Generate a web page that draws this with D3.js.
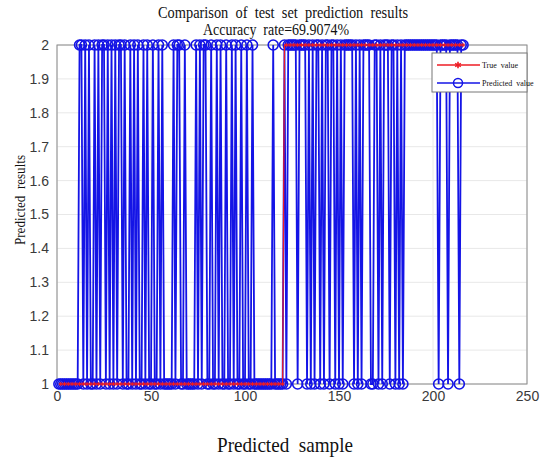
<!DOCTYPE html>
<html>
<head>
<meta charset="utf-8">
<script src="https://cdn.jsdelivr.net/npm/d3@7"></script>
<style>
  body { margin: 0; background: #fff; }
  svg { display: block; }
</style>
</head>
<body>
<div id="chart"></div>
<script>
var svgWidth = 556;
var svgHeight = 461;

var margin = { top: 45, right: 29, bottom: 77, left: 57 };
var width = svgWidth - margin.left - margin.right;
var height = svgHeight - margin.top - margin.bottom;

// test set labels, samples 1..216
var trueValues = [
  1,1,1,1,1,1,1,1,1,1, 1,1,1,1,1,1,1,1,1,1, 1,1,1,1,1,1,1,1,1,1,
  1,1,1,1,1,1,1,1,1,1, 1,1,1,1,1,1,1,1,1,1, 1,1,1,1,1,1,1,1,1,1,
  1,1,1,1,1,1,1,1,1,1, 1,1,1,1,1,1,1,1,1,1, 1,1,1,1,1,1,1,1,1,1,
  1,1,1,1,1,1,1,1,1,1, 1,1,1,1,1,1,1,1,1,1, 1,1,1,1,1,1,1,1,1,1,
  2,2,2,2,2,2,2,2,2,2, 2,2,2,2,2,2,2,2,2,2, 2,2,2,2,2,2,2,2,2,2,
  2,2,2,2,2,2,2,2,2,2, 2,2,2,2,2,2,2,2,2,2, 2,2,2,2,2,2,2,2,2,2,
  2,2,2,2,2,2,2,2,2,2, 2,2,2,2,2,2,2,2,2,2, 2,2,2,2,2,2,2,2,2,2,
  2,2,2,2,2,2
];

var predictedValues = [
  1,1,1,1,1,1,1,1,1,1, 1,2,2,1,2,1,2,1,1,2, 1,2,1,2,2,1,2,1,2,1,
  2,1,2,2,1,2,1,1,2,1, 2,1,2,1,1,2,1,2,1,1, 2,1,1,2,1,2,1,1,1,1,
  1,2,1,2,2,1,1,2,1,1, 1,1,1,2,1,2,1,2,2,1, 1,2,1,1,2,1,2,1,1,2,
  1,1,2,1,2,1,1,2,1,1, 2,1,1,2,1,1,1,1,1,1, 1,1,1,1,2,1,1,1,1,1,
  2,1,2,2,2,2,2,1,2,2, 2,2,1,2,1,2,1,2,2,1, 2,1,2,2,1,2,2,1,2,1,
  2,1,2,2,2,2,2,1,2,1, 2,1,2,2,2,2,1,1,2,2, 1,2,1,2,2,2,1,2,2,1,
  2,1,2,1,2,2,2,2,2,2, 2,2,2,2,2,2,2,2,2,2, 2,2,1,2,2,2,2,1,2,2,
  2,2,2,1,2,2
];

var xTicks = [0, 50, 100, 150, 200, 250];
var yTicks = [1, 1.1, 1.2, 1.3, 1.4, 1.5, 1.6, 1.7, 1.8, 1.9, 2];

var titleLines = ["Comparison  of  test  set  prediction  results", "Accuracy  rate=69.9074%"];
var seriesNames = ["True  value", "Predicted  value"];

var blue = "#1414e6";
var red = "#ee1c24";
var serif = "Liberation Serif, Times New Roman, serif";

var svg = d3.select("#chart")
  .append("svg")
  .attr("width", svgWidth)
  .attr("height", svgHeight);

var chartGroup = svg.append("g")
  .attr("transform", `translate(${margin.left}, ${margin.top})`);

var xLinearScale = d3.scaleLinear().domain([0, 250]).range([0, width]);
var yLinearScale = d3.scaleLinear().domain([1, 2]).range([height, 0]);

// grid
chartGroup.append("g")
  .selectAll("line")
  .data(xTicks)
  .enter()
  .append("line")
  .attr("x1", d => xLinearScale(d))
  .attr("x2", d => xLinearScale(d))
  .attr("y1", 0)
  .attr("y2", height)
  .attr("stroke", "#e8e8e8");

chartGroup.append("g")
  .selectAll("line")
  .data(yTicks)
  .enter()
  .append("line")
  .attr("x1", 0)
  .attr("x2", width)
  .attr("y1", d => yLinearScale(d))
  .attr("y2", d => yLinearScale(d))
  .attr("stroke", "#e8e8e8");

// box
chartGroup.append("rect")
  .attr("width", width)
  .attr("height", height)
  .attr("fill", "none")
  .attr("stroke", "#8a8a8a");

var bottomAxis = d3.axisBottom(xLinearScale).tickValues(xTicks).tickSize(0).tickPadding(7);
var leftAxis = d3.axisLeft(yLinearScale).tickValues(yTicks).tickSize(0).tickPadding(8)
  .tickFormat(d3.format("~g"));

var xAxis = chartGroup.append("g")
  .attr("transform", `translate(0, ${height})`)
  .call(bottomAxis);
var yAxis = chartGroup.append("g").call(leftAxis);

[xAxis, yAxis].forEach(function(ax) {
  ax.select(".domain").remove();
  ax.selectAll("text")
    .attr("font-family", "Liberation Sans, Arial, sans-serif")
    .attr("font-size", "14px")
    .attr("fill", "#3a3a3a");
});

var idx = d3.range(1, predictedValues.length + 1);

var line = d3.line()
  .x(d => xLinearScale(d[0]))
  .y(d => yLinearScale(d[1]));

// predicted: blue with circles
var predPts = idx.map((i, k) => [i, predictedValues[k]]);
chartGroup.append("path")
  .datum(predPts)
  .attr("d", line)
  .attr("fill", "none")
  .attr("stroke", blue)
  .attr("stroke-width", 1.8);

chartGroup.append("g")
  .selectAll("circle")
  .data(predPts)
  .enter()
  .append("circle")
  .attr("cx", d => xLinearScale(d[0]))
  .attr("cy", d => yLinearScale(d[1]))
  .attr("r", 5)
  .attr("fill", "none")
  .attr("stroke", blue)
  .attr("stroke-width", 1.6);

// true: red with asterisks
var truePts = idx.map((i, k) => [i, trueValues[k]]);
chartGroup.append("path")
  .datum(truePts)
  .attr("d", line)
  .attr("fill", "none")
  .attr("stroke", red)
  .attr("stroke-width", 1.2);

var star = d3.symbol().type(d3.symbolAsterisk).size(12);
chartGroup.append("g")
  .selectAll("path")
  .data(truePts.filter((d, k) => k % 2 == 1))
  .enter()
  .append("path")
  .attr("d", star())
  .attr("transform", d => `translate(${xLinearScale(d[0])}, ${yLinearScale(d[1])})`)
  .attr("fill", "none")
  .attr("stroke", red)
  .attr("stroke-width", 1);

// legend
var legend = chartGroup.append("g")
  .attr("transform", `translate(${width - 95}, 8)`);
legend.append("rect")
  .attr("width", 95)
  .attr("height", 39)
  .attr("fill", "#fff")
  .attr("stroke", "#777");

var legendItems = [
  { name: seriesNames[0], color: red },
  { name: seriesNames[1], color: blue }
];
legendItems.forEach(function(item, i) {
  var y = 12 + i * 18;
  legend.append("line")
    .attr("x1", 5).attr("x2", 48)
    .attr("y1", y).attr("y2", y)
    .attr("stroke", item.color)
    .attr("stroke-width", 1.4);
  if (i == 0) {
    legend.append("path")
      .attr("d", d3.symbol().type(d3.symbolAsterisk).size(30)())
      .attr("transform", `translate(26, ${y})`)
      .attr("fill", "none")
      .attr("stroke", item.color)
      .attr("stroke-width", 1.6);
  } else {
    legend.append("circle")
      .attr("cx", 26).attr("cy", y).attr("r", 4.5)
      .attr("fill", "none")
      .attr("stroke", item.color)
      .attr("stroke-width", 1.5);
  }
  legend.append("text")
    .attr("x", 50)
    .attr("y", y + 3)
    .attr("font-family", serif)
    .attr("font-size", "8px")
    .attr("fill", "#111")
    .style("white-space", "pre")
    .text(item.name);
});

// titles
var titleX = [283, 276];
var titleLen = [250, 146];
svg.append("g")
  .selectAll("text")
  .data(titleLines)
  .enter()
  .append("text")
  .attr("x", (d, i) => titleX[i])
  .attr("y", (d, i) => 18 + i * 17)
  .attr("text-anchor", "middle")
  .attr("font-family", serif)
  .attr("font-size", "16px")
  .attr("fill", "#111")
  .attr("textLength", (d, i) => titleLen[i])
  .attr("lengthAdjust", "spacingAndGlyphs")
  .style("white-space", "pre")
  .text(d => d);

svg.append("text")
  .attr("x", 285)
  .attr("y", 452)
  .attr("text-anchor", "middle")
  .attr("font-family", serif)
  .attr("font-size", "22px")
  .attr("fill", "#111")
  .attr("textLength", 136)
  .attr("lengthAdjust", "spacingAndGlyphs")
  .style("white-space", "pre")
  .text("Predicted  sample");

svg.append("text")
  .attr("transform", `translate(25, 200) rotate(-90)`)
  .attr("text-anchor", "middle")
  .attr("font-family", serif)
  .attr("font-size", "15px")
  .attr("fill", "#111")
  .attr("textLength", 90)
  .attr("lengthAdjust", "spacingAndGlyphs")
  .style("white-space", "pre")
  .text("Predicted  results");
</script>
</body>
</html>
